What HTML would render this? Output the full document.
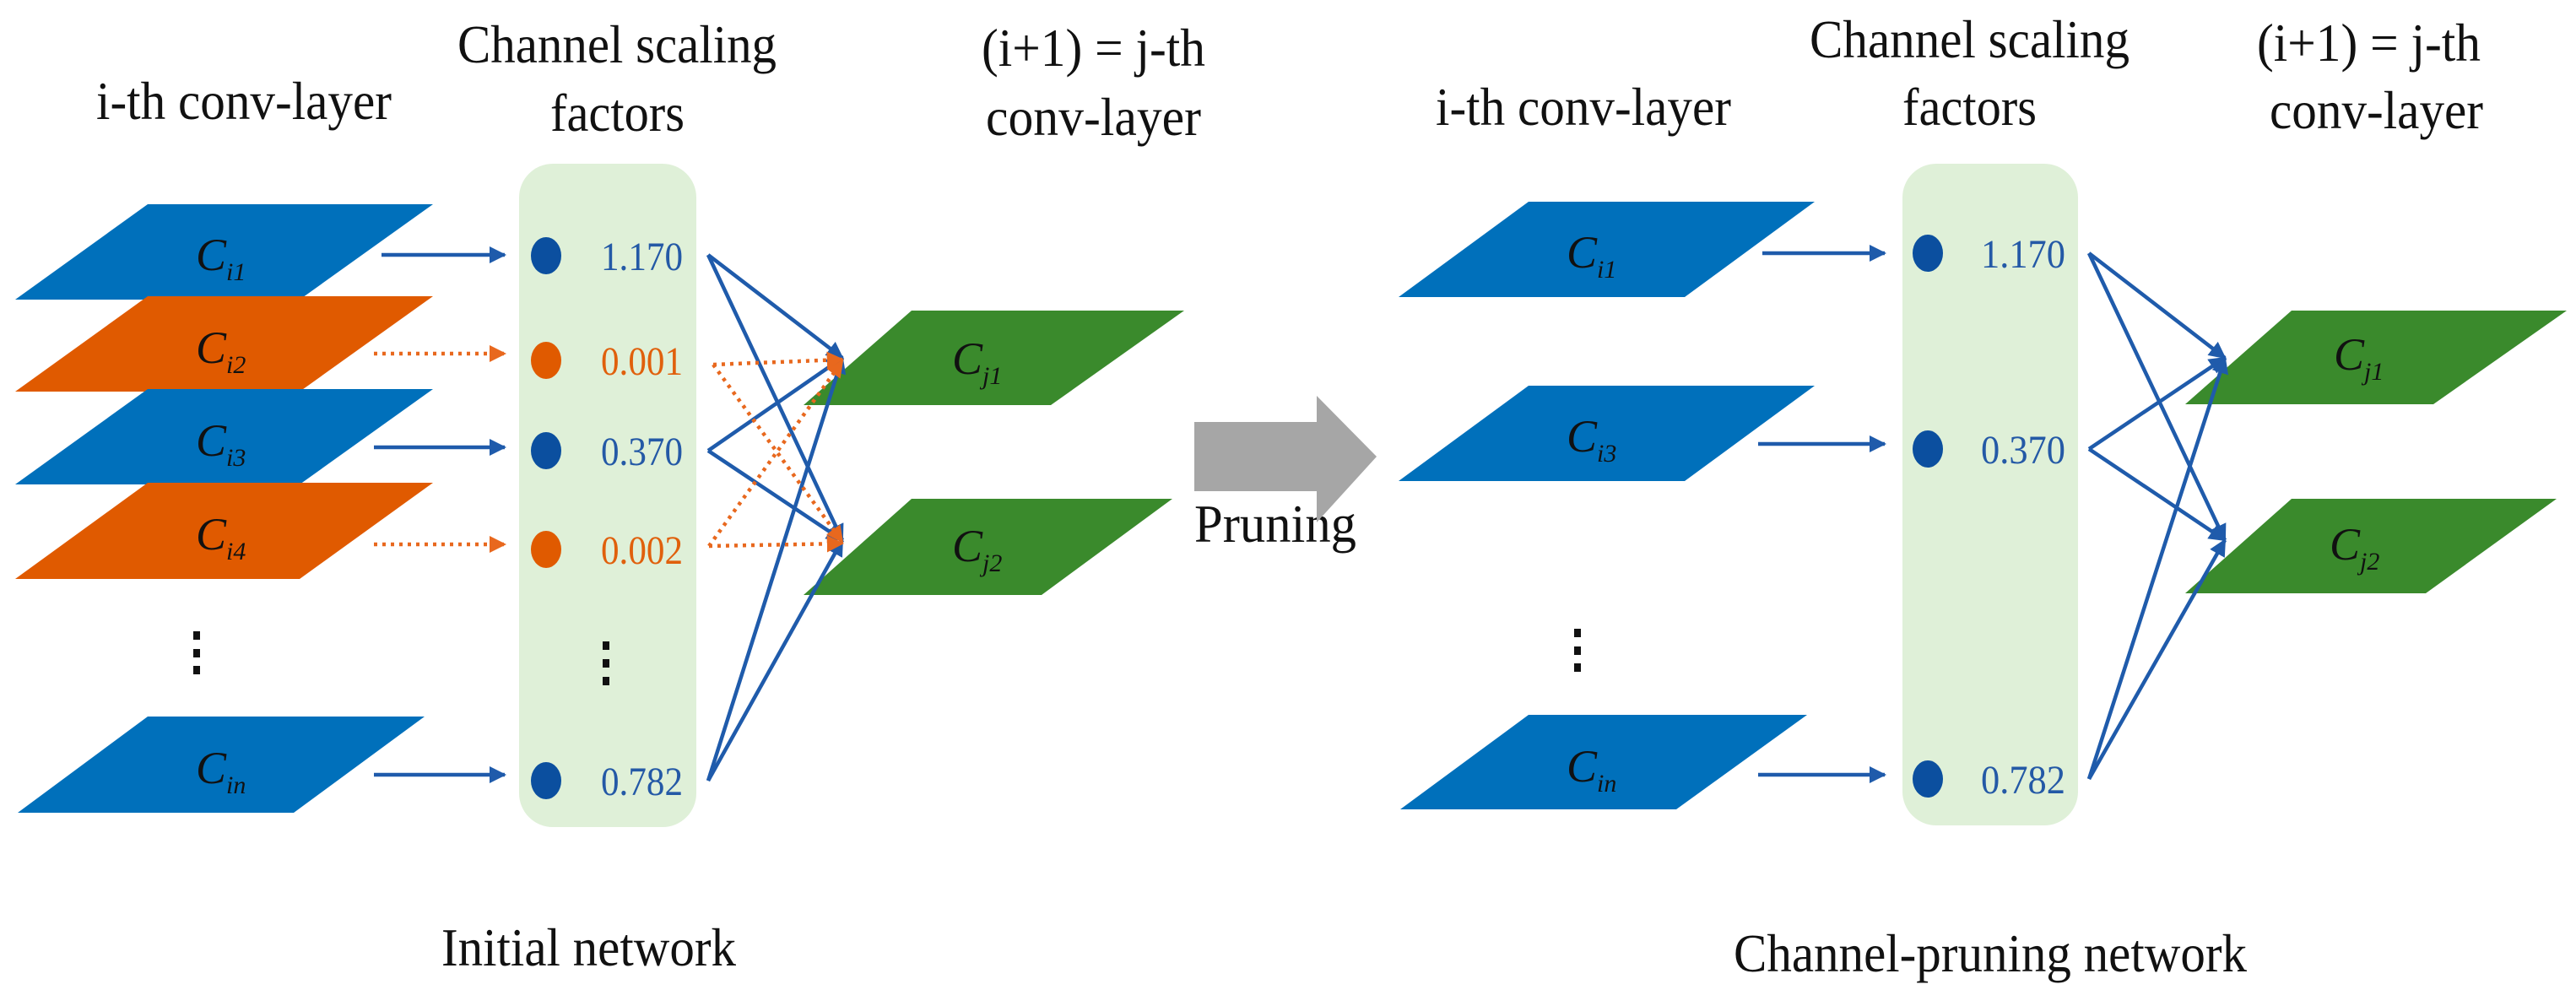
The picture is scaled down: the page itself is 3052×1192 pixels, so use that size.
<!DOCTYPE html>
<html><head><meta charset="utf-8"><style>html,body{margin:0;padding:0;background:#fff}svg{display:block}</style></head>
<body>
<svg width="3052" height="1192" viewBox="0 0 3052 1192" xmlns="http://www.w3.org/2000/svg" font-family="Liberation Serif, serif">
<defs>
<marker id="ab" viewBox="0 0 10 10" refX="9" refY="5" markerWidth="4.5" markerHeight="4.5" orient="auto" markerUnits="strokeWidth"><path d="M0,0 L10,5 L0,10 z" fill="#1f5bab"/></marker>
<marker id="ao" viewBox="0 0 10 10" refX="9" refY="5" markerWidth="4.5" markerHeight="4.5" orient="auto" markerUnits="strokeWidth"><path d="M0,0 L10,5 L0,10 z" fill="#e8681e"/></marker>
</defs>

<g font-size="64" fill="#111">
<text x="114" y="141" textLength="350" lengthAdjust="spacingAndGlyphs">i-th conv-layer</text>
<text x="542" y="74" textLength="378" lengthAdjust="spacingAndGlyphs">Channel scaling</text>
<text x="652" y="155" textLength="159" lengthAdjust="spacingAndGlyphs">factors</text>
<text x="1163" y="78" textLength="265" lengthAdjust="spacingAndGlyphs">(i+1) = j-th</text>
<text x="1168" y="160" textLength="255" lengthAdjust="spacingAndGlyphs">conv-layer</text>
<text x="523" y="1144" textLength="349" lengthAdjust="spacingAndGlyphs">Initial network</text>
<text x="1701" y="148" textLength="350" lengthAdjust="spacingAndGlyphs">i-th conv-layer</text>
<text x="2144" y="68" textLength="379" lengthAdjust="spacingAndGlyphs">Channel scaling</text>
<text x="2254" y="148" textLength="159" lengthAdjust="spacingAndGlyphs">factors</text>
<text x="2674" y="72" textLength="265" lengthAdjust="spacingAndGlyphs">(i+1) = j-th</text>
<text x="2689" y="152" textLength="253" lengthAdjust="spacingAndGlyphs">conv-layer</text>
<text x="2054" y="1151" textLength="608" lengthAdjust="spacingAndGlyphs">Channel-pruning network</text>
<text x="1415" y="642" textLength="192" lengthAdjust="spacingAndGlyphs">Pruning</text>
</g>

<polygon points="1415,500 1560,500 1560,469 1631,541 1560,619 1560,582 1415,582" fill="#a6a6a6"/>

<rect x="615" y="194" width="210" height="786" rx="40" fill="#dff0d8"/>
<g>
<polygon points="175,242 513,242 355,355 18,355" fill="#0070bb"/>
<polygon points="175,351 513,351 355,464 18,464" fill="#e05a00"/>
<polygon points="175,461 513,461 355,574 18,574" fill="#0070bb"/>
<polygon points="175,572 513,572 355,686 18,686" fill="#e05a00"/>
<polygon points="175,849 503,849 348,963 21,963" fill="#0070bb"/>
<polygon points="1080,368 1403,368 1245,480 952,480" fill="#3a8a2c"/>
<polygon points="1080,591 1389,591 1234,705 952,705" fill="#3a8a2c"/>
</g>
<g font-size="54" font-style="italic" fill="#111">
<text x="232" y="320">C<tspan font-size="30" dy="12">i1</tspan></text>
<text x="232" y="430">C<tspan font-size="30" dy="12">i2</tspan></text>
<text x="232" y="540">C<tspan font-size="30" dy="12">i3</tspan></text>
<text x="232" y="651">C<tspan font-size="30" dy="12">i4</tspan></text>
<text x="232" y="928">C<tspan font-size="30" dy="12">in</tspan></text>
<text x="1128" y="443">C<tspan font-size="30" dy="12">j1</tspan></text>
<text x="1128" y="665">C<tspan font-size="30" dy="12">j2</tspan></text>
</g>
<g fill="#111">
<rect x="229" y="748" width="8" height="10"/><rect x="229" y="769" width="8" height="10"/><rect x="229" y="789" width="8" height="10"/>
<rect x="714" y="760" width="8" height="10"/><rect x="714" y="781" width="8" height="10"/><rect x="714" y="802" width="8" height="10"/>
<rect x="1865" y="745" width="8" height="10"/><rect x="1865" y="766" width="8" height="10"/><rect x="1865" y="786" width="8" height="10"/>
<rect x="2351" y="756" width="8" height="10"/><rect x="2351" y="777" width="8" height="10"/><rect x="2351" y="798" width="8" height="10"/>
</g>
<g>
<ellipse cx="647" cy="303" rx="18" ry="22" fill="#0b4f9f"/>
<ellipse cx="647" cy="427" rx="18" ry="22" fill="#e05a00"/>
<ellipse cx="647" cy="534" rx="18" ry="22" fill="#0b4f9f"/>
<ellipse cx="647" cy="651" rx="18" ry="22" fill="#e05a00"/>
<ellipse cx="647" cy="925" rx="18" ry="22" fill="#0b4f9f"/>
</g>
<g font-size="48">
<text x="712" y="320" fill="#2459a6" textLength="97" lengthAdjust="spacingAndGlyphs">1.170</text>
<text x="712" y="444" fill="#e0600c" textLength="97" lengthAdjust="spacingAndGlyphs">0.001</text>
<text x="712" y="551" fill="#2459a6" textLength="97" lengthAdjust="spacingAndGlyphs">0.370</text>
<text x="712" y="668" fill="#e0600c" textLength="97" lengthAdjust="spacingAndGlyphs">0.002</text>
<text x="712" y="942" fill="#2459a6" textLength="97" lengthAdjust="spacingAndGlyphs">0.782</text>
</g>
<g stroke="#1f5bab" stroke-width="4.5" fill="none" marker-end="url(#ab)">
<line x1="452" y1="302" x2="598" y2="302"/>
<line x1="443" y1="530" x2="598" y2="530"/>
<line x1="443" y1="918" x2="598" y2="918"/>
<line x1="839" y1="302" x2="998" y2="424"/>
<line x1="839" y1="302" x2="998" y2="640"/>
<line x1="839" y1="534" x2="998" y2="424"/>
<line x1="839" y1="534" x2="998" y2="640"/>
<line x1="839" y1="925" x2="998" y2="424"/>
<line x1="839" y1="925" x2="998" y2="640"/>
</g>
<g stroke="#e8681e" stroke-width="4.5" fill="none" stroke-dasharray="4 6" marker-end="url(#ao)">
<line x1="443" y1="419" x2="598" y2="419"/>
<line x1="443" y1="645" x2="598" y2="645"/>
<line x1="845" y1="432" x2="998" y2="426"/>
<line x1="845" y1="432" x2="998" y2="642"/>
<line x1="840" y1="647" x2="998" y2="428"/>
<line x1="840" y1="647" x2="998" y2="644"/>
</g>

<rect x="2254" y="194" width="208" height="784" rx="40" fill="#dff0d8"/>
<polygon points="1811,239 2150,239 1996,352 1657,352" fill="#0070bb"/>
<polygon points="1811,457 2150,457 1996,570 1657,570" fill="#0070bb"/>
<polygon points="1811,847 2141,847 1986,959 1659,959" fill="#0070bb"/>
<polygon points="2715,368 3041,368 2883,479 2589,479" fill="#3a8a2c"/>
<polygon points="2715,591 3029,591 2874,703 2589,703" fill="#3a8a2c"/>
<g font-size="54" font-style="italic" fill="#111">
<text x="1856" y="317">C<tspan font-size="30" dy="12">i1</tspan></text>
<text x="1856" y="535">C<tspan font-size="30" dy="12">i3</tspan></text>
<text x="1856" y="926">C<tspan font-size="30" dy="12">in</tspan></text>
<text x="2765" y="438">C<tspan font-size="30" dy="12">j1</tspan></text>
<text x="2760" y="663">C<tspan font-size="30" dy="12">j2</tspan></text>
</g>
<ellipse cx="2284" cy="300" rx="18" ry="22" fill="#0b4f9f"/>
<ellipse cx="2284" cy="532" rx="18" ry="22" fill="#0b4f9f"/>
<ellipse cx="2284" cy="923" rx="18" ry="22" fill="#0b4f9f"/>
<g font-size="48" fill="#2459a6">
<text x="2347" y="317" textLength="100" lengthAdjust="spacingAndGlyphs">1.170</text>
<text x="2347" y="549" textLength="100" lengthAdjust="spacingAndGlyphs">0.370</text>
<text x="2347" y="940" textLength="100" lengthAdjust="spacingAndGlyphs">0.782</text>
</g>
<g stroke="#1f5bab" stroke-width="4.5" fill="none" marker-end="url(#ab)">
<line x1="2088" y1="300" x2="2233" y2="300"/>
<line x1="2083" y1="526" x2="2233" y2="526"/>
<line x1="2083" y1="918" x2="2233" y2="918"/>
<line x1="2475" y1="300" x2="2636" y2="424"/>
<line x1="2475" y1="300" x2="2636" y2="640"/>
<line x1="2475" y1="532" x2="2636" y2="424"/>
<line x1="2475" y1="532" x2="2636" y2="640"/>
<line x1="2475" y1="923" x2="2636" y2="424"/>
<line x1="2475" y1="923" x2="2636" y2="640"/>
</g>
</svg>
</body></html>
